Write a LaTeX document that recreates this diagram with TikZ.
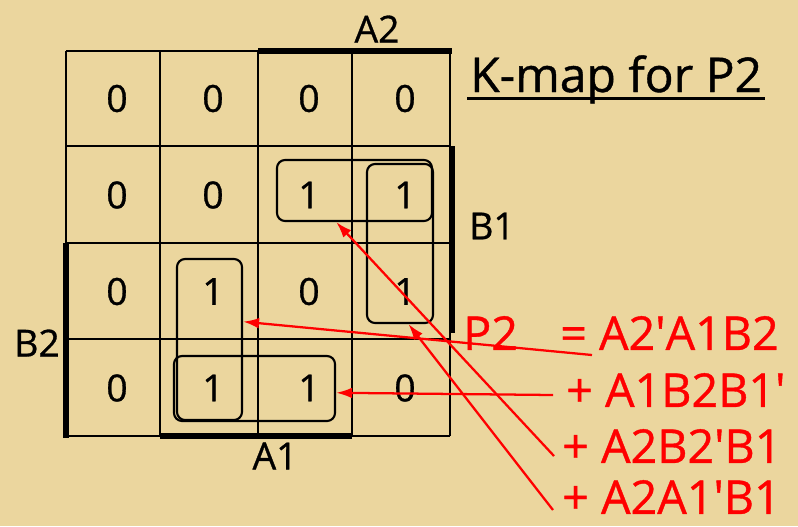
\documentclass[tikz,border=0pt]{standalone}
\usepackage{fontspec}
\setmainfont{Open Sans}[FakeBold=0.8]
\usetikzlibrary{arrows.meta,fit}

\definecolor{parchment}{RGB}{235,214,158}
\newcommand{\compl}{\textquotesingle}

\begin{document}
\begin{tikzpicture}[>={Latex[length=12pt,width=8pt]}, x=0.75pt, y=-0.75pt,
    cell/.style={font=\fontsize{28}{28}\selectfont},
    loop/.style={draw, line width=1.6pt, rounded corners=6pt, inner sep=0pt},
    term/.style={red, font=\fontsize{35}{35}\selectfont, anchor=west, inner sep=0pt},
    link/.style={red, line width=1.7pt, ->}]
    % Background
    \fill[parchment] (0,0) rectangle (798,526);

    % Draw the grid lines
    \foreach \x in {66,160,258,352,450}
        \draw[line width=1.6pt] (\x,51) -- (\x,436);
    \foreach \y in {51,146,243,339,436}
        \draw[line width=1.6pt] (66,\y) -- (450,\y);

    % Draw thick bars where a variable is 1
    \draw[line width=5pt] (258,51) -- (452,51);
    \draw[line width=5pt] (452,146) -- (452,333);
    \draw[line width=5pt] (66,243) -- (66,438);
    \draw[line width=5pt] (160,436) -- (352,436);

    % Label the variables
    \node[cell] (a2) at (377,29) {A2};
    \node[cell] (b1) at (492,226) {B1};
    \node[cell] (b2) at (37,343) {B2};
    \node[cell] (a1) at (275,456) {A1};

    % Fill in the cells
    \foreach \vals [count=\r] in {{0,0,0,0},{0,0,1,1},{0,1,0,1},{0,1,1,0}}
        \foreach \v [count=\c] in \vals
            \node[cell] (c\r\c) at ({21+96*\c}, {2+96.5*\r}) {\v};

    % Draw the groups of 1s
    \node[loop, fit={(277,160) (432,221)}] (loopA) {};
    \node[loop, fit={(367,164) (433,323)}] (loopC) {};
    \node[loop, fit={(177,259) (242,420)}] (loopB) {};
    \node[loop, fit={(174,356) (335,421)}] (loopD) {};

    % Title
    \node[font=\fontsize{36}{36}\selectfont, anchor=base west, inner sep=0pt] (title) at (470,92) {K-map for P2};
    \draw[line width=2.2pt] ([xshift=-2pt,yshift=-5pt]title.base west) -- ([xshift=2pt,yshift=-5pt]title.base east);

    % Sum of products
    \node[term] (p2) at (463,333) {P2};
    \node[term] (eq) at (560,333) {= A2\compl A1B2};
    \node[term] (t2) at (566,390) {+ A1B2B1\compl};
    \node[term] (t3) at (562,446) {+ A2B2\compl B1};
    \node[term] (t4) at (562,497) {+ A2A1\compl B1};

    % Point each product term at its group
    \draw[link] ([xshift=24pt,yshift=-16.5pt]eq.west) -- (loopB.28);
    \draw[link] ([xshift=-9.75pt,yshift=-3.75pt]t2.west) -- (loopD.-3);
    \draw[link] ([xshift=-6pt,yshift=-7.5pt]t3.west) -- (loopA.240);
    \draw[link] ([xshift=-6.75pt,yshift=-9.75pt]t4.west) -- (loopC.276);
\end{tikzpicture}
\end{document}
